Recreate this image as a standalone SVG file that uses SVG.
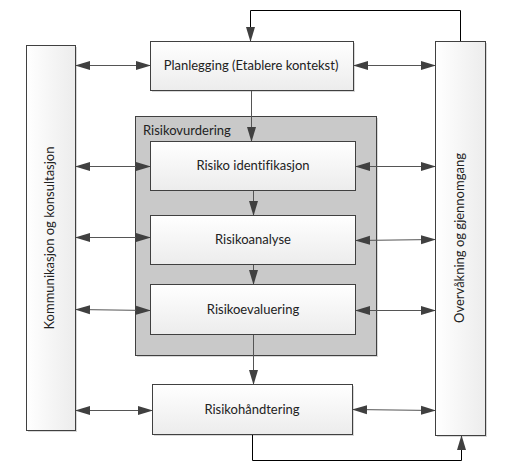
<svg xmlns="http://www.w3.org/2000/svg" width="512" height="474" viewBox="0 0 512 474">
<defs>
<linearGradient id="g" x1="0" y1="0" x2="0" y2="1"><stop offset="0" stop-color="#ffffff"/><stop offset="1" stop-color="#ececec"/></linearGradient>
<linearGradient id="gh" x1="0" y1="0" x2="1" y2="0"><stop offset="0" stop-color="#ffffff"/><stop offset="1" stop-color="#ececec"/></linearGradient>
<marker id="ah" markerWidth="15" markerHeight="10" refX="14" refY="5" orient="auto-start-reverse" markerUnits="userSpaceOnUse"><path d="M0,0.5 L15,5 L0,9.5 Z" fill="#404040"/></marker>
</defs>
<style>
.box{fill:url(#g);stroke:#404040;stroke-width:1}
.vbox{fill:url(#gh);stroke:#404040;stroke-width:1}
.shadow{fill:#d8d8d8}
.t{font-family:Lato,"Liberation Sans",sans-serif;font-size:13px;fill:#222;text-anchor:middle;font-variant-ligatures:none}
.c{fill:none;stroke:#555;stroke-width:1}
.l{fill:none;stroke:#000;stroke-width:1}
</style>
<rect width="512" height="474" fill="#fff"/>
<g id="kommunikasjon">
<rect class="shadow" x="28" y="47" width="49" height="385"/>
<rect class="vbox" x="26.5" y="45.5" width="49" height="385"/>
<text class="t" transform="translate(54,238) rotate(-90)">Kommunikasjon og konsultasjon</text>
</g>
<g id="overvakning">
<rect class="shadow" x="437" y="43" width="50" height="394"/>
<rect class="vbox" x="435.5" y="41.5" width="50" height="394"/>
<text class="t" transform="translate(464,238) rotate(-90)">Overvåkning og gjennomgang</text>
</g>
<g id="risikovurdering">
<rect class="shadow" x="137" y="118" width="241" height="239"/>
<rect x="135.5" y="116.5" width="241" height="239" fill="#c9c9c9" stroke="#404040"/>
<text class="t" x="143" y="135" style="text-anchor:start">Risikovurdering</text>
</g>
<g id="planlegging">
<rect class="shadow" x="152" y="43" width="203" height="49"/>
<rect class="box" x="150.5" y="41.5" width="203" height="49"/>
<text class="t" x="251" y="70">Planlegging (Etablere kontekst)</text>
</g>
<g id="identifikasjon">
<rect class="box" x="150.5" y="141.5" width="205" height="49"/>
<text class="t" x="253" y="170">Risiko identifikasjon</text>
</g>
<g id="analyse">
<rect class="box" x="150.5" y="215.5" width="205" height="49"/>
<text class="t" x="253" y="244">Risikoanalyse</text>
</g>
<g id="evaluering">
<rect class="box" x="150.5" y="284.5" width="205" height="50"/>
<text class="t" x="253" y="314">Risikoevaluering</text>
</g>
<g id="handtering">
<rect class="shadow" x="154" y="386" width="200" height="50"/>
<rect class="box" x="152.5" y="384.5" width="200" height="50"/>
<text class="t" x="252" y="414">Risikohåndtering</text>
</g>
<g id="connectors">
<path class="l" d="M460.5,41 V10.5 H250.5 V41" marker-end="url(#ah)"/>
<path class="l" d="M252.5,435 V460.5 H461.5 V436" marker-end="url(#ah)"/>
<path class="c" d="M251.5,91 V141" marker-end="url(#ah)"/>
<path class="c" d="M253.5,191 V215" marker-end="url(#ah)"/>
<path class="c" d="M253.5,265 V284" marker-end="url(#ah)"/>
<path class="c" d="M253.5,335 V384" marker-end="url(#ah)"/>
<path class="c" d="M76,65.5 H150" marker-start="url(#ah)" marker-end="url(#ah)"/>
<path class="c" d="M354,65.5 H435" marker-start="url(#ah)" marker-end="url(#ah)"/>
<path class="c" d="M76,166.5 H150" marker-start="url(#ah)" marker-end="url(#ah)"/>
<path class="c" d="M356,166.5 H435" marker-start="url(#ah)" marker-end="url(#ah)"/>
<path class="c" d="M76,237.5 H150" marker-start="url(#ah)" marker-end="url(#ah)"/>
<path class="c" d="M356,240.5 L435,239.5" marker-start="url(#ah)" marker-end="url(#ah)"/>
<path class="c" d="M76,309.5 L150,310.5" marker-start="url(#ah)" marker-end="url(#ah)"/>
<path class="c" d="M356,310.5 H435" marker-start="url(#ah)" marker-end="url(#ah)"/>
<path class="c" d="M76,410.5 H152" marker-start="url(#ah)" marker-end="url(#ah)"/>
<path class="c" d="M353,409.5 L435,410.5" marker-start="url(#ah)" marker-end="url(#ah)"/>
</g>
</svg>
